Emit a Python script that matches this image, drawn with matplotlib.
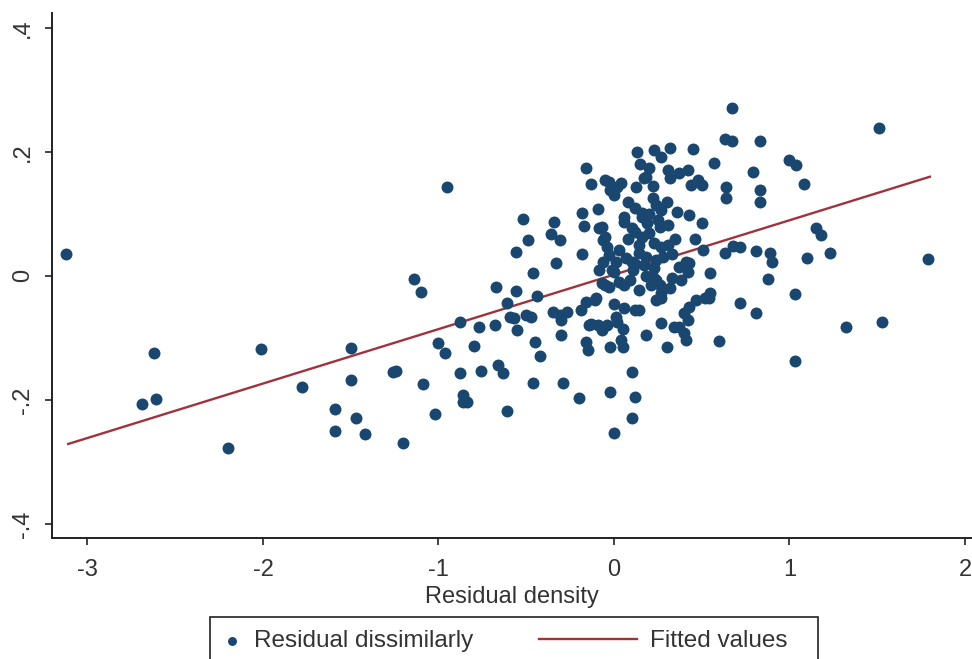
import matplotlib
matplotlib.use("Agg")
import matplotlib.pyplot as plt
from matplotlib.legend_handler import HandlerLine2D, HandlerPathCollection
from matplotlib.patches import Rectangle

# residual density (x) and residual dissimilarity (y)
resid_density = [
    -3.12, -2.62, -2.69, -2.61, -2.01, -1.78, -2.20, -1.50, -1.50, -1.59,
    -1.59, -1.47, -1.42, -1.26, -1.24, -1.20, -1.09, -1.02, -1.00, -0.96,
    -0.88, -0.88, -0.86, -0.84, -0.86, -0.80, -0.77, -0.76, -0.68, -0.66,
    -0.63, -0.61, -0.57, -0.55, -0.50, -0.47, -0.46, -0.45, -0.42, -0.35,
    -0.31, -0.30, -0.30, -0.29, -0.20, -0.19, -0.16, -0.15, -0.13, -0.07,
    -0.04, 0.01, -0.02, 0.00, 0.04, 0.05, 0.10, 0.10, 0.12, -0.95,
    -1.14, -1.10, -0.52, -0.49, -0.56, -0.46, -0.67, -0.56, -0.61, -0.44,
    -0.34, -0.36, -0.31, -0.33, -0.18, -0.17, -0.18, -0.16, -0.13, -0.09,
    -0.07, -0.05, -0.02, 0.02, 0.00, 0.13, 0.06, -0.05, -0.04, -0.03,
    -0.06, 0.12, 0.10, -0.07, -0.03, 0.03, 0.09, 0.12, -0.11, -0.59,
    0.67, 1.51, 0.63, 0.67, 0.83, 0.57, 0.79, 1.00, 1.04, 1.08,
    0.64, 0.64, 0.83, 0.83, 1.15, 1.18, 1.23, 1.10, 1.79, 1.03,
    1.32, 1.53, 1.03, 0.88, 0.81, 0.72, 0.60, 0.81, 0.89, 0.90,
    0.63, 0.68, 0.72, 0.51, 0.55, 0.55, 0.52, 0.47, 0.43, 0.40,
    0.42, 0.37, 0.40, 0.30, 0.27, 0.18, 0.14, 0.24, 0.27, 0.22,
    0.24, 0.21, 0.33, 0.38, 0.43, 0.42, 0.23, 0.27, 0.32, 0.45,
    0.20, 0.18, 0.31, 0.37, 0.42, 0.32, 0.44, 0.48, 0.50, -0.03,
    0.125, 0.22, 0.24, 0.27, 0.16, 0.19, 0.26, 0.31, 0.36, 0.43,
    0.50, 0.16, 0.20, 0.23, 0.27, 0.31, 0.46, 0.14, 0.18, 0.24,
    0.37, 0.41, 0.04, 0.17, 0.16, -0.10, -0.16, -0.05, -0.14, -0.09,
    0.34, 0.41, 0.02, 0.06, 0.27, 0.54, -0.085, -0.06, -0.01, -0.085,
    0.01, 0.06, 0.10, 0.14, 0.03, 0.07, 0.17, 0.23, 0.00, 0.11,
    -0.27, 0.06, 0.14, 0.08, 0.12, 0.20, 0.25, 0.30, 0.35, 0.28,
    0.33, 0.12, 0.18, 0.26, 0.32, 0.08, 0.22, 0.15, 0.00, 0.05,
    -0.02,
]
resid_dissim = [
    0.035, -0.124, -0.206, -0.198, -0.118, -0.179, -0.277, -0.116, -0.168, -0.215,
    -0.250, -0.229, -0.255, -0.155, -0.153, -0.269, -0.174, -0.223, -0.108, -0.124,
    -0.074, -0.156, -0.192, -0.203, -0.203, -0.113, -0.082, -0.153, -0.079, -0.144,
    -0.156, -0.218, -0.068, -0.087, -0.063, -0.066, -0.172, -0.106, -0.129, -0.058,
    -0.063, -0.071, -0.095, -0.172, -0.197, -0.055, -0.106, -0.119, -0.077, -0.087,
    -0.079, -0.066, -0.187, -0.253, -0.103, -0.114, -0.155, -0.229, -0.195, 0.144,
    -0.005, -0.026, 0.092, 0.058, 0.039, 0.005, -0.018, -0.024, -0.044, -0.032,
    0.087, 0.068, 0.058, 0.021, 0.102, 0.081, 0.035, 0.174, 0.148, 0.108,
    0.079, 0.155, 0.139, 0.144, 0.131, 0.200, 0.095, 0.063, 0.047, 0.034,
    0.023, 0.071, 0.023, -0.011, -0.018, -0.010, -0.006, -0.055, -0.039, -0.066,
    0.271, 0.239, 0.221, 0.218, 0.218, 0.182, 0.168, 0.187, 0.179, 0.148,
    0.144, 0.126, 0.139, 0.119, 0.077, 0.066, 0.037, 0.029, 0.027, -0.029,
    -0.082, -0.074, -0.137, -0.005, -0.060, -0.044, -0.105, 0.040, 0.037, 0.023,
    0.037, 0.048, 0.047, 0.042, 0.005, -0.027, -0.035, -0.039, -0.050, -0.060,
    -0.071, -0.082, -0.092, -0.115, -0.076, -0.095, -0.055, -0.039, -0.027, -0.002,
    -0.006, -0.015, -0.003, -0.006, 0.021, 0.006, 0.203, 0.192, 0.206, 0.205,
    0.174, 0.160, 0.171, 0.166, 0.171, 0.158, 0.147, 0.155, 0.147, 0.152,
    0.144, 0.126, 0.115, 0.106, 0.095, 0.085, 0.079, 0.082, 0.103, 0.098,
    0.085, 0.063, 0.069, 0.053, 0.047, 0.050, 0.060, 0.037, 0.031, 0.026,
    0.015, 0.023, 0.150, 0.158, 0.102, -0.035, -0.042, -0.015, -0.079, -0.079,
    -0.082, -0.103, -0.074, -0.052, -0.035, -0.035, 0.077, 0.058, 0.010, 0.010,
    0.023, 0.087, 0.077, 0.050, 0.042, 0.029, 0.018, 0.013, 0.006, 0.010,
    -0.058, -0.015, -0.023, 0.120, 0.110, 0.100, 0.090, 0.120, 0.060, 0.030,
    0.035, 0.020, 0.000, -0.015, -0.020, 0.060, 0.145, 0.180, -0.045, -0.085,
    -0.115,
]

# fitted regression line, end points
fit_x = [-3.11, 1.80]
fit_y = [-0.271, 0.160]

x_ticks = [-3, -2, -1, 0, 1, 2]
y_ticks = [-0.4, -0.2, 0.0, 0.2, 0.4]
y_tick_labels = ["-.4", "-.2", "0", ".2", ".4"]

NAVY = "#1a476f"
MAROON = "#a0323c"
TEXT = "#333333"
AXIS = "#222222"


class LeftDot(HandlerPathCollection):
    # put the legend dot at the left end of its key
    def get_xdata(self, legend, xdescent, ydescent, width, height, fontsize):
        x = [-xdescent + 0.5 * width]
        return x, x


class LongLine(HandlerLine2D):
    # draw the line key longer, reaching to the left of its slot
    def get_xdata(self, legend, xdescent, ydescent, width, height, fontsize):
        x = [-xdescent + width - 73.0, -xdescent + width - 3.0]
        return x, x


plt.rcParams["font.family"] = ["Liberation Sans", "DejaVu Sans"]

fig = plt.figure(figsize=(9.72, 6.59), dpi=100)
ax = fig.add_axes([52 / 972, 121 / 659, 920 / 972, 525 / 659])

sc = ax.scatter(resid_density, resid_dissim, s=74, color=NAVY, linewidths=0,
                zorder=3, label="Residual dissimilarly")
ln, = ax.plot(fit_x, fit_y, color=MAROON, linewidth=1.7, zorder=2,
              label="Fitted values")

ax.set_xlim(-3.202, 2.04)
ax.set_ylim(-0.4226, 0.424)
ax.set_xticks(x_ticks)
ax.set_xticklabels([str(t) for t in x_ticks])
ax.set_yticks(y_ticks)
ax.set_yticklabels(y_tick_labels, rotation=90, va="center")

for side in ("top", "right"):
    ax.spines[side].set_visible(False)
for side in ("left", "bottom"):
    ax.spines[side].set_linewidth(1.4)
    ax.spines[side].set_color(AXIS)

ax.tick_params(axis="both", direction="out", length=5, width=1.2,
               color=AXIS, labelsize=17, labelcolor=TEXT)
ax.tick_params(axis="x", pad=10)
ax.tick_params(axis="y", pad=8)

ax.set_xlabel("Residual density", fontsize=17, color=TEXT, labelpad=4)

# legend box (runs off the bottom edge, as in the original)
fig.patches.append(Rectangle((210 / 972, -0.05), 608 / 972, 42 / 659 + 0.05,
                             transform=fig.transFigure, fill=False,
                             edgecolor=AXIS, linewidth=1.2))

leg = fig.legend(
    handles=[sc, ln],
    loc="center left",
    bbox_to_anchor=(210 / 972, 1 - 641 / 659),
    borderaxespad=0,
    ncol=2,
    fontsize=17.5,
    frameon=False,
    borderpad=0.4,
    handlelength=1.0,
    handletextpad=0.4,
    columnspacing=5.9,
    markerscale=0.75,
    handler_map={sc: LeftDot(), ln: LongLine()},
)
for t in leg.get_texts():
    t.set_color(TEXT)

fig.savefig("out.png", dpi=100)
